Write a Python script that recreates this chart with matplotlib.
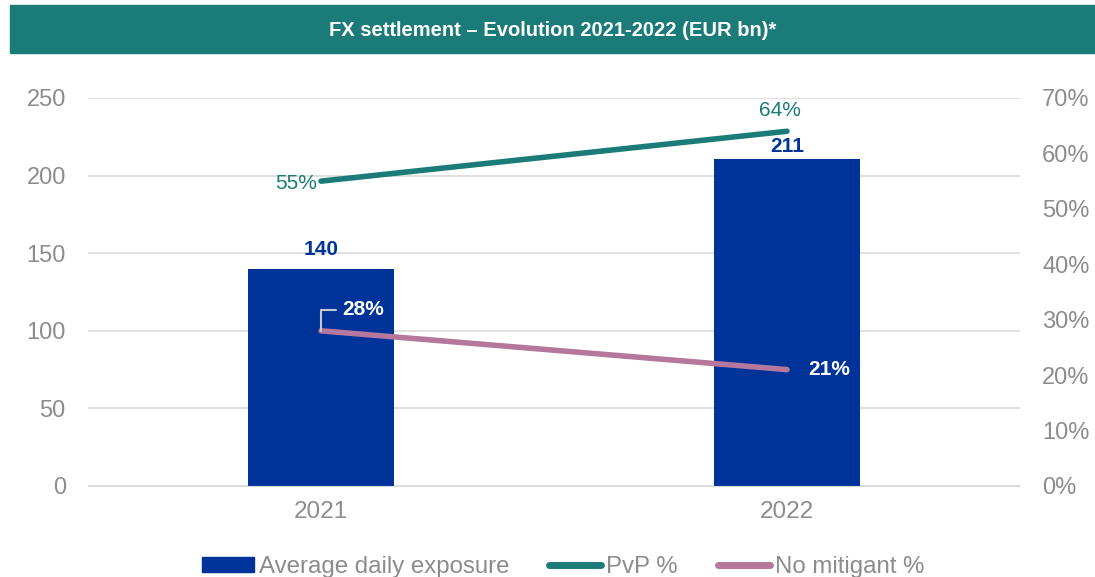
import matplotlib
matplotlib.use("Agg")
import matplotlib.pyplot as plt
from matplotlib.patches import Rectangle
from matplotlib.lines import Line2D
import numpy as np

plt.rcParams['font.family'] = ['Liberation Sans', 'DejaVu Sans']

categories = ["2021", "2022"]
exposure = [140, 211]
pvp = [55, 64]
no_mitigant = [28, 21]
left_ticks = [0, 50, 100, 150, 200, 250]
right_ticks = [0, 10, 20, 30, 40, 50, 60, 70]

BAR = "#003399"
TEAL = "#1B7B78"
PINK = "#B5779B"
GREY = "#8C8C8C"

fig = plt.figure(figsize=(10.95, 5.77), dpi=100)
# title banner
fig.patches.append(Rectangle((10/1095, 1-53/577), 1-10/1095, 48/577,
                             transform=fig.transFigure, color=TEAL, zorder=0))
fig.text((10+1095)/2/1095, 1-31/577, "FX settlement – Evolution 2021-2022 (EUR bn)*",
         color="white", fontsize=14.5, fontweight="bold", ha="center", va="center")

ax = fig.add_axes([88/1095, 1-486/577, (1020-88)/1095, (486-98)/577])
x = np.arange(len(categories))
ax.bar(x, exposure, width=0.313, color=BAR, zorder=2)
ax.set_xlim(-0.5, 1.5)
ax.set_ylim(0, 250)
ax.set_yticks(left_ticks)
ax.set_xticks(x)
ax.set_xticklabels(categories)
ax.grid(axis='y', color="#D9D9D9", linewidth=1.2, zorder=0)
ax.set_axisbelow(True)
for s in ax.spines.values():
    s.set_visible(False)
ax.spines['bottom'].set_visible(True)
ax.spines['bottom'].set_color("#D9D9D9")
ax.tick_params(axis='y', length=0, labelsize=17, labelcolor=GREY, pad=16)
ax.tick_params(axis='x', length=0, labelsize=17.5, labelcolor=GREY, pad=11)

label_offsets = [7, 2]
for xi, v, off in zip(x, exposure, label_offsets):
    ax.annotate(f"{v}", (xi, v), xytext=(0, off), textcoords="offset points",
                ha="center", va="bottom", color=BAR, fontsize=15, fontweight="bold")

ax2 = ax.twinx()
ax2.set_ylim(0, 70)
ax2.set_yticks(right_ticks)
ax2.set_yticklabels([f"{t}%" for t in right_ticks])
for s in ax2.spines.values():
    s.set_visible(False)
ax2.tick_params(axis='y', length=0, labelsize=17, labelcolor=GREY, pad=16)
ax2.plot(x, pvp, color=TEAL, linewidth=4, solid_capstyle='round', zorder=3)
ax2.plot(x, no_mitigant, color=PINK, linewidth=4, solid_capstyle='round', zorder=3)

# pvp labels
ax2.annotate(f"{pvp[0]}%", (x[0], pvp[0]), xytext=(-3, -2), textcoords="offset points",
             ha="right", va="center", color=TEAL, fontsize=15)
ax2.annotate(f"{pvp[1]}%", (x[1], pvp[1]), xytext=(-5, 8), textcoords="offset points",
             ha="center", va="bottom", color=TEAL, fontsize=15)
# no mitigant labels
ax2.annotate(f"{no_mitigant[0]}%", (x[0], no_mitigant[0]), xytext=(15, 15),
             textcoords="offset points", ha="left", va="center", color="white",
             fontsize=15, fontweight="bold",
             arrowprops=dict(arrowstyle="-", color="#C8C8C8", lw=1.5,
                             connectionstyle="angle,angleA=0,angleB=90,rad=0",
                             shrinkA=2, shrinkB=0))
ax2.annotate(f"{no_mitigant[1]}%", (x[1], no_mitigant[1]), xytext=(15, 0),
             textcoords="offset points", ha="left", va="center", color="white",
             fontsize=15, fontweight="bold")

handles = [Rectangle((0, 0), 1, 1, color=BAR),
           Line2D([0], [0], color=TEAL, linewidth=5, solid_capstyle='round'),
           Line2D([0], [0], color=PINK, linewidth=5, solid_capstyle='round')]
labels = ["Average daily exposure", "PvP %", "No mitigant %"]
fig.legend(handles, labels, loc="center", bbox_to_anchor=(563/1095, 1-567/577),
           ncol=3, frameon=False, fontsize=17.3, labelcolor=GREY,
           handlelength=2.17, handleheight=0.54, handletextpad=0.2,
           columnspacing=1.67, borderpad=0)

fig.savefig("out.png", dpi=100)
